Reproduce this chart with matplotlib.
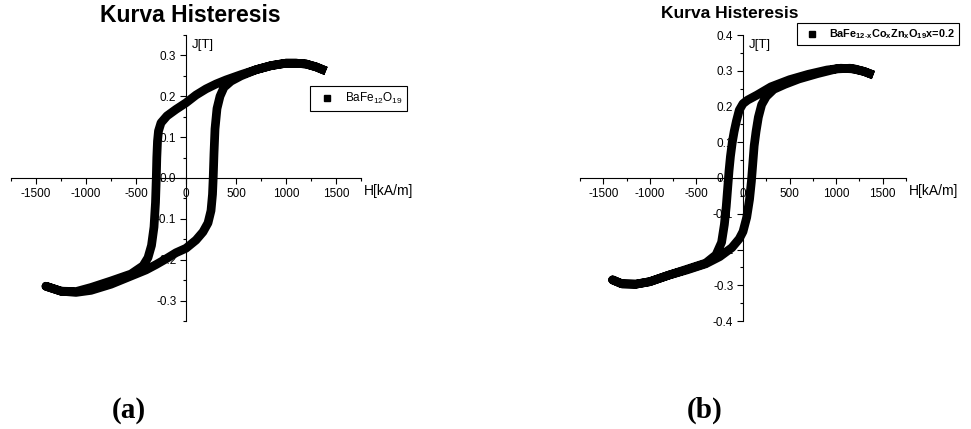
"""Kurva histeresis BaFe12O19 (a) dan BaFe12-xCoxZnxO19 x=0.2 (b)."""
import matplotlib
matplotlib.use("Agg")
import matplotlib.pyplot as plt
from matplotlib.lines import Line2D
from matplotlib.ticker import MultipleLocator, FormatStrFormatter

plt.rcParams.update({"font.family": "Liberation Sans",
                     "axes.unicode_minus": False,
                     "mathtext.fontset": "custom",
                     "mathtext.rm": "Liberation Sans",
                     "mathtext.bf": "Liberation Sans:bold",
                     "mathtext.it": "Liberation Sans:italic"})

# (a) BaFe12O19 -- upper (descending) branch then lower (ascending) branch
H_a = [1400, 1300, 1200, 1100, 1000, 850, 700, 550, 400, 300, 200, 100, 0,
       -100, -190, -250, -275, -285, -292, -297, -305, -320, -345, -380,
       -430, -550, -750, -950, -1100, -1250, -1400,
       -1250, -1100, -950, -750, -550, -400, -300, -200, -100, 0, 100, 170,
       220, 250, 265, 272, 280, 290, 310, 340, 380, 450, 550, 700, 850, 1000,
       1100, 1200, 1300, 1400]
J_a = [0.262, 0.272, 0.279, 0.281, 0.281, 0.275, 0.265, 0.253, 0.240, 0.230,
       0.218, 0.203, 0.184, 0.168, 0.152, 0.135, 0.115, 0.090, 0.050, 0.000,
       -0.060, -0.120, -0.165, -0.195, -0.215, -0.235, -0.252, -0.268, -0.278,
       -0.277, -0.265,
       -0.277, -0.280, -0.275, -0.260, -0.240, -0.225, -0.212, -0.198, -0.183,
       -0.172, -0.152, -0.132, -0.110, -0.080, -0.040, 0.000, 0.060, 0.120,
       0.170, 0.200, 0.222, 0.237, 0.250, 0.265, 0.275, 0.281, 0.281, 0.279,
       0.272, 0.262]

# (b) BaFe12-xCoxZnxO19 x=0.2
H_b = [1400, 1300, 1200, 1050, 900, 700, 500, 300, 150, 50, 0, -40, -70,
       -95, -115, -135, -150, -165, -180, -200, -230, -290, -400, -600, -800,
       -1000, -1150, -1300, -1400,
       -1300, -1150, -1000, -800, -600, -400, -250, -120, -40, 0, 40, 70, 90,
       105, 120, 140, 165, 200, 250, 330, 450, 600, 800, 1000, 1150, 1300,
       1400]
J_b = [0.288, 0.298, 0.305, 0.307, 0.302, 0.290, 0.275, 0.255, 0.232, 0.218,
       0.208, 0.190, 0.160, 0.130, 0.100, 0.060, 0.020, -0.030, -0.080,
       -0.130, -0.180, -0.215, -0.238, -0.255, -0.272, -0.290, -0.297, -0.296,
       -0.285,
       -0.296, -0.297, -0.290, -0.272, -0.257, -0.240, -0.220, -0.195, -0.170,
       -0.150, -0.110, -0.060, -0.010, 0.040, 0.090, 0.130, 0.170, 0.205,
       0.228, 0.248, 0.262, 0.277, 0.292, 0.305, 0.307, 0.298, 0.288]

panels = [
    dict(H=H_a, J=J_a, ylim=0.35, pos=[11/971, 108/429, 350/971, 286/429],
         label=r"BaFe$_{12}$O$_{19}$", bold=False, leg_fs=8.5,
         title_xy=(190/971, 1 - 16/429), title_fs=16.5,
         leg_xy=(310/971, 1 - 86/429), tag="(a)", tag_x=129/971),
    dict(H=H_b, J=J_b, ylim=0.4, pos=[580/971, 108/429, 326/971, 286/429],
         label=r"BaFe$_{\mathbf{12\text{-}x}}$Co$_{\mathbf{x}}$Zn$_{\mathbf{x}}$O$_{\mathbf{19}}$x=0.2",
         bold=True, leg_fs=7.8, title_xy=(730/971, 1 - 13/429), title_fs=12.5,
         leg_xy=(797/971, 1 - 23/429), tag="(b)", tag_x=705/971),
]

fig = plt.figure(figsize=(9.71, 4.29), dpi=100)
for p in panels:
    ax = fig.add_axes(p["pos"])
    ax.plot(p["H"], p["J"], color="black", lw=6.3, solid_joinstyle="round",
            solid_capstyle="butt", zorder=3)
    ax.set_xlim(-1750, 1750)
    ax.set_ylim(-p["ylim"], p["ylim"])
    for s in ("top", "right"):
        ax.spines[s].set_visible(False)
    ax.spines["left"].set_position(("data", 0))
    ax.spines["bottom"].set_position(("data", 0))
    ax.xaxis.set_major_locator(MultipleLocator(500))
    ax.xaxis.set_minor_locator(MultipleLocator(250))
    ax.yaxis.set_major_locator(MultipleLocator(0.1))
    ax.yaxis.set_minor_locator(MultipleLocator(0.05))
    ax.yaxis.set_major_formatter(FormatStrFormatter("%.1f"))
    ax.tick_params(which="major", direction="out", length=4, width=0.8,
                   labelsize=8.5, pad=3)
    ax.tick_params(which="minor", direction="out", length=2, width=0.8)
    ax.annotate("H[kA/m]", (1750, 0), xytext=(2, -4), textcoords="offset points",
                fontsize=10, ha="left", va="top")
    ax.text(60, p["ylim"] * 0.97, "J[T]", fontsize=9.5, ha="left", va="top")
    fig.text(*p["title_xy"], "Kurva Histeresis", fontsize=p["title_fs"],
             fontweight="bold", ha="center", va="center")
    handle = Line2D([], [], color="black", marker="s", ls="none", ms=5)
    leg = ax.legend([handle], [p["label"]], loc="upper left",
                    bbox_to_anchor=p["leg_xy"], bbox_transform=fig.transFigure,
                    handlelength=2.0, handletextpad=0.55, fancybox=False,
                    framealpha=1, edgecolor="black", fontsize=p["leg_fs"],
                    borderpad=0.4, borderaxespad=0)
    leg.get_frame().set_linewidth(0.8)
    if p["bold"]:
        for t in leg.get_texts():
            t.set_fontweight("bold")
    fig.text(p["tag_x"], 1 - 410/429, p["tag"], fontsize=21, fontweight="bold",
             family="Liberation Serif", ha="center", va="center")

fig.savefig("out.png", dpi=100)
